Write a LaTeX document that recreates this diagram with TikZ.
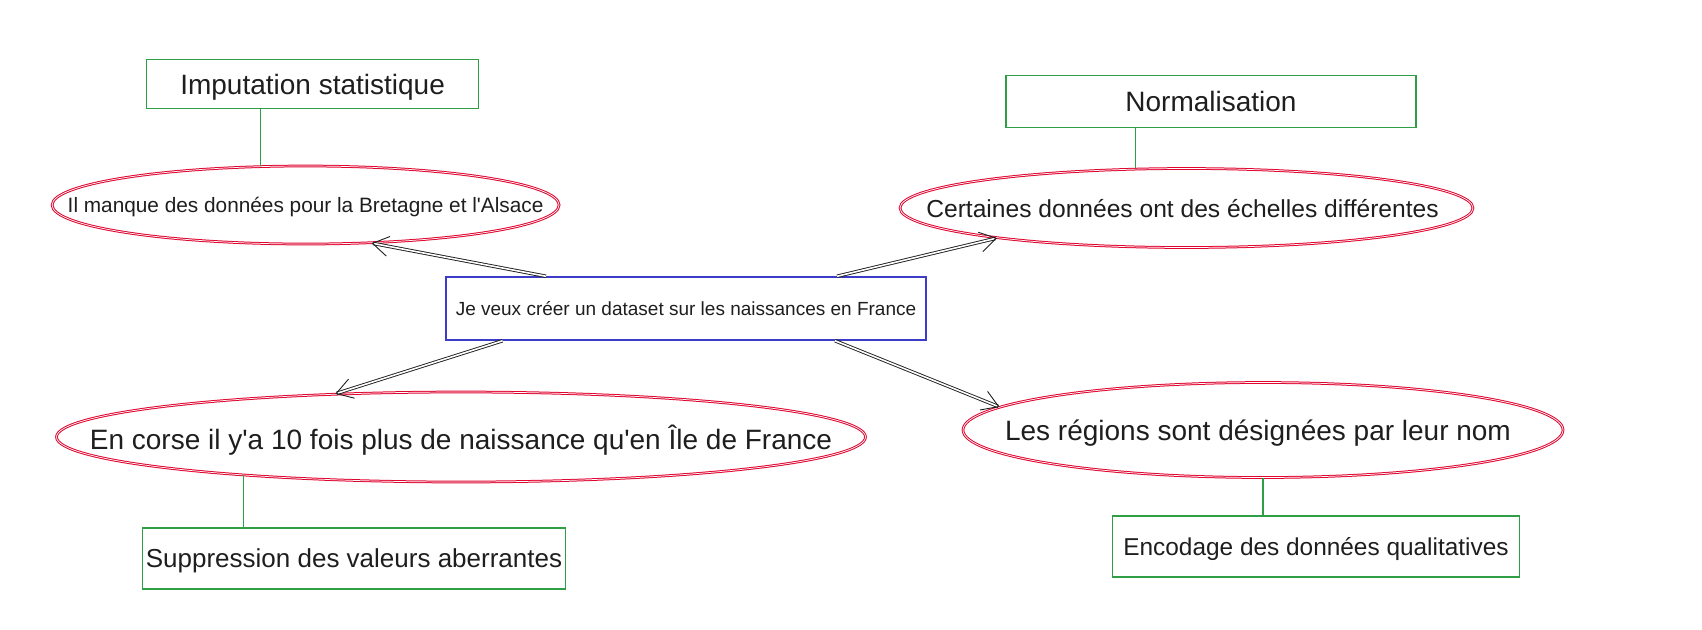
\documentclass[tikz,border=0pt]{standalone}
\usepackage{fontspec}
\setmainfont{Liberation Sans}
\usepackage{xcolor}
\definecolor{Pomme}{HTML}{2F9E44}
\definecolor{Cerise}{HTML}{E0062F}
\definecolor{Indigo}{HTML}{3C3CC8}
\definecolor{Encre}{HTML}{1E1E1E}
\colorlet{cGreen}{Pomme}
\colorlet{cRed}{Cerise}
\colorlet{cBlue}{Indigo}
\colorlet{cInk}{Encre}
\usetikzlibrary{arrows.meta, shapes.geometric, positioning}
\tikzset{
	line width = .6pt,
	>={Straight Barb[length=8pt,width=10pt]},
	texte/.style={
		text=cInk,
		text depth=0pt
	},
	boite/.style={
		texte,
		draw=cGreen,
		rectangle,
		inner sep=0pt,
		line width=.75pt
	},
	bulle/.style={
		draw=cRed,
		ellipse,
		inner sep=0pt,
		line width=.5pt,
		double=white,
		double distance=.35pt
	},
	lien/.style={
		draw=cGreen,
		line width=.6pt
	},
	fleche/.style={
		->,
		draw=cInk,
		line width=.45pt,
		double=white,
		double distance=.8pt
	}
}

\begin{document}
\begin{tikzpicture}[x=.5pt, y=-.5pt]
	\useasboundingbox (0,0) rectangle (1702,629);

	\node (main) [boite, draw=cBlue, minimum width=240pt, minimum height=31.5pt, font=\fontsize{9.5}{11}\selectfont] at (686,308.5) {Je veux créer un dataset sur les naissances en France};

	\node (manque) [bulle, minimum width=253.5pt, minimum height=39pt, label={[texte, font=\fontsize{10.4}{12}\selectfont]center:Il manque des données pour la Bretagne et l\textquotesingle Alsace}] at (305.6,205) {};
	\node (echelle) [bulle, minimum width=286.5pt, minimum height=39.5pt, label={[texte, font=\fontsize{12.3}{15}\selectfont, xshift=-2pt]center:Certaines données ont des échelles différentes}] at (1186.5,208) {};
	\node (corse) [bulle, minimum width=404.5pt, minimum height=45pt, label={[texte, font=\fontsize{14}{17}\selectfont]center:En corse il y\textquotesingle a 10 fois plus de naissance qu\textquotesingle en Île de France}] at (461,437) {};
	\node (regions) [bulle, minimum width=300pt, minimum height=47.5pt, label={[texte, font=\fontsize{14}{17}\selectfont, xshift=-2.5pt]center:Les régions sont désignées par leur nom}] at (1263,430) {};

	\node (impu) [boite, above=28.2pt of manque, xshift=3.5pt, minimum width=166pt, minimum height=24.5pt, font=\fontsize{14}{17}\selectfont] {Imputation statistique};
	\node (norm) [boite, above=20pt of echelle, xshift=12.25pt, minimum width=205pt, minimum height=26pt, font=\fontsize{14}{17}\selectfont] {Normalisation};
	\node (suppr) [boite, below=22.25pt of corse, xshift=-53.5pt, minimum width=211.5pt, minimum height=30.5pt, font=\fontsize{13}{16}\selectfont] {Suppression des valeurs aberrantes};
	\node (encod) [boite, below=18.5pt of regions, xshift=26.5pt, minimum width=203.5pt, minimum height=30.5pt, font=\fontsize{12.2}{15}\selectfont] {Encodage des données qualitatives};

	\draw[lien] ([xshift=-26pt]impu.south) -- ([xshift=-26pt]impu.south |- manque.north);
	\draw[lien] ([xshift=-37.75pt]norm.south) -- ([xshift=-37.75pt]norm.south |- echelle.north);
	\draw[lien] (corse.190) -- (corse.190 |- suppr.north);
	\draw[lien] (regions.south) -- (regions.south |- encod.north);

	\draw[fleche] ([xshift=-70pt]main.north) -- (manque.-30);
	\draw[fleche] ([xshift=75.5pt]main.north) -- (echelle.189);
	\draw[fleche] ([xshift=-91.7pt]main.south) -- (corse.161.5);
	\draw[fleche] ([xshift=74.5pt]main.south) -- (regions.175);
\end{tikzpicture}
\end{document}
